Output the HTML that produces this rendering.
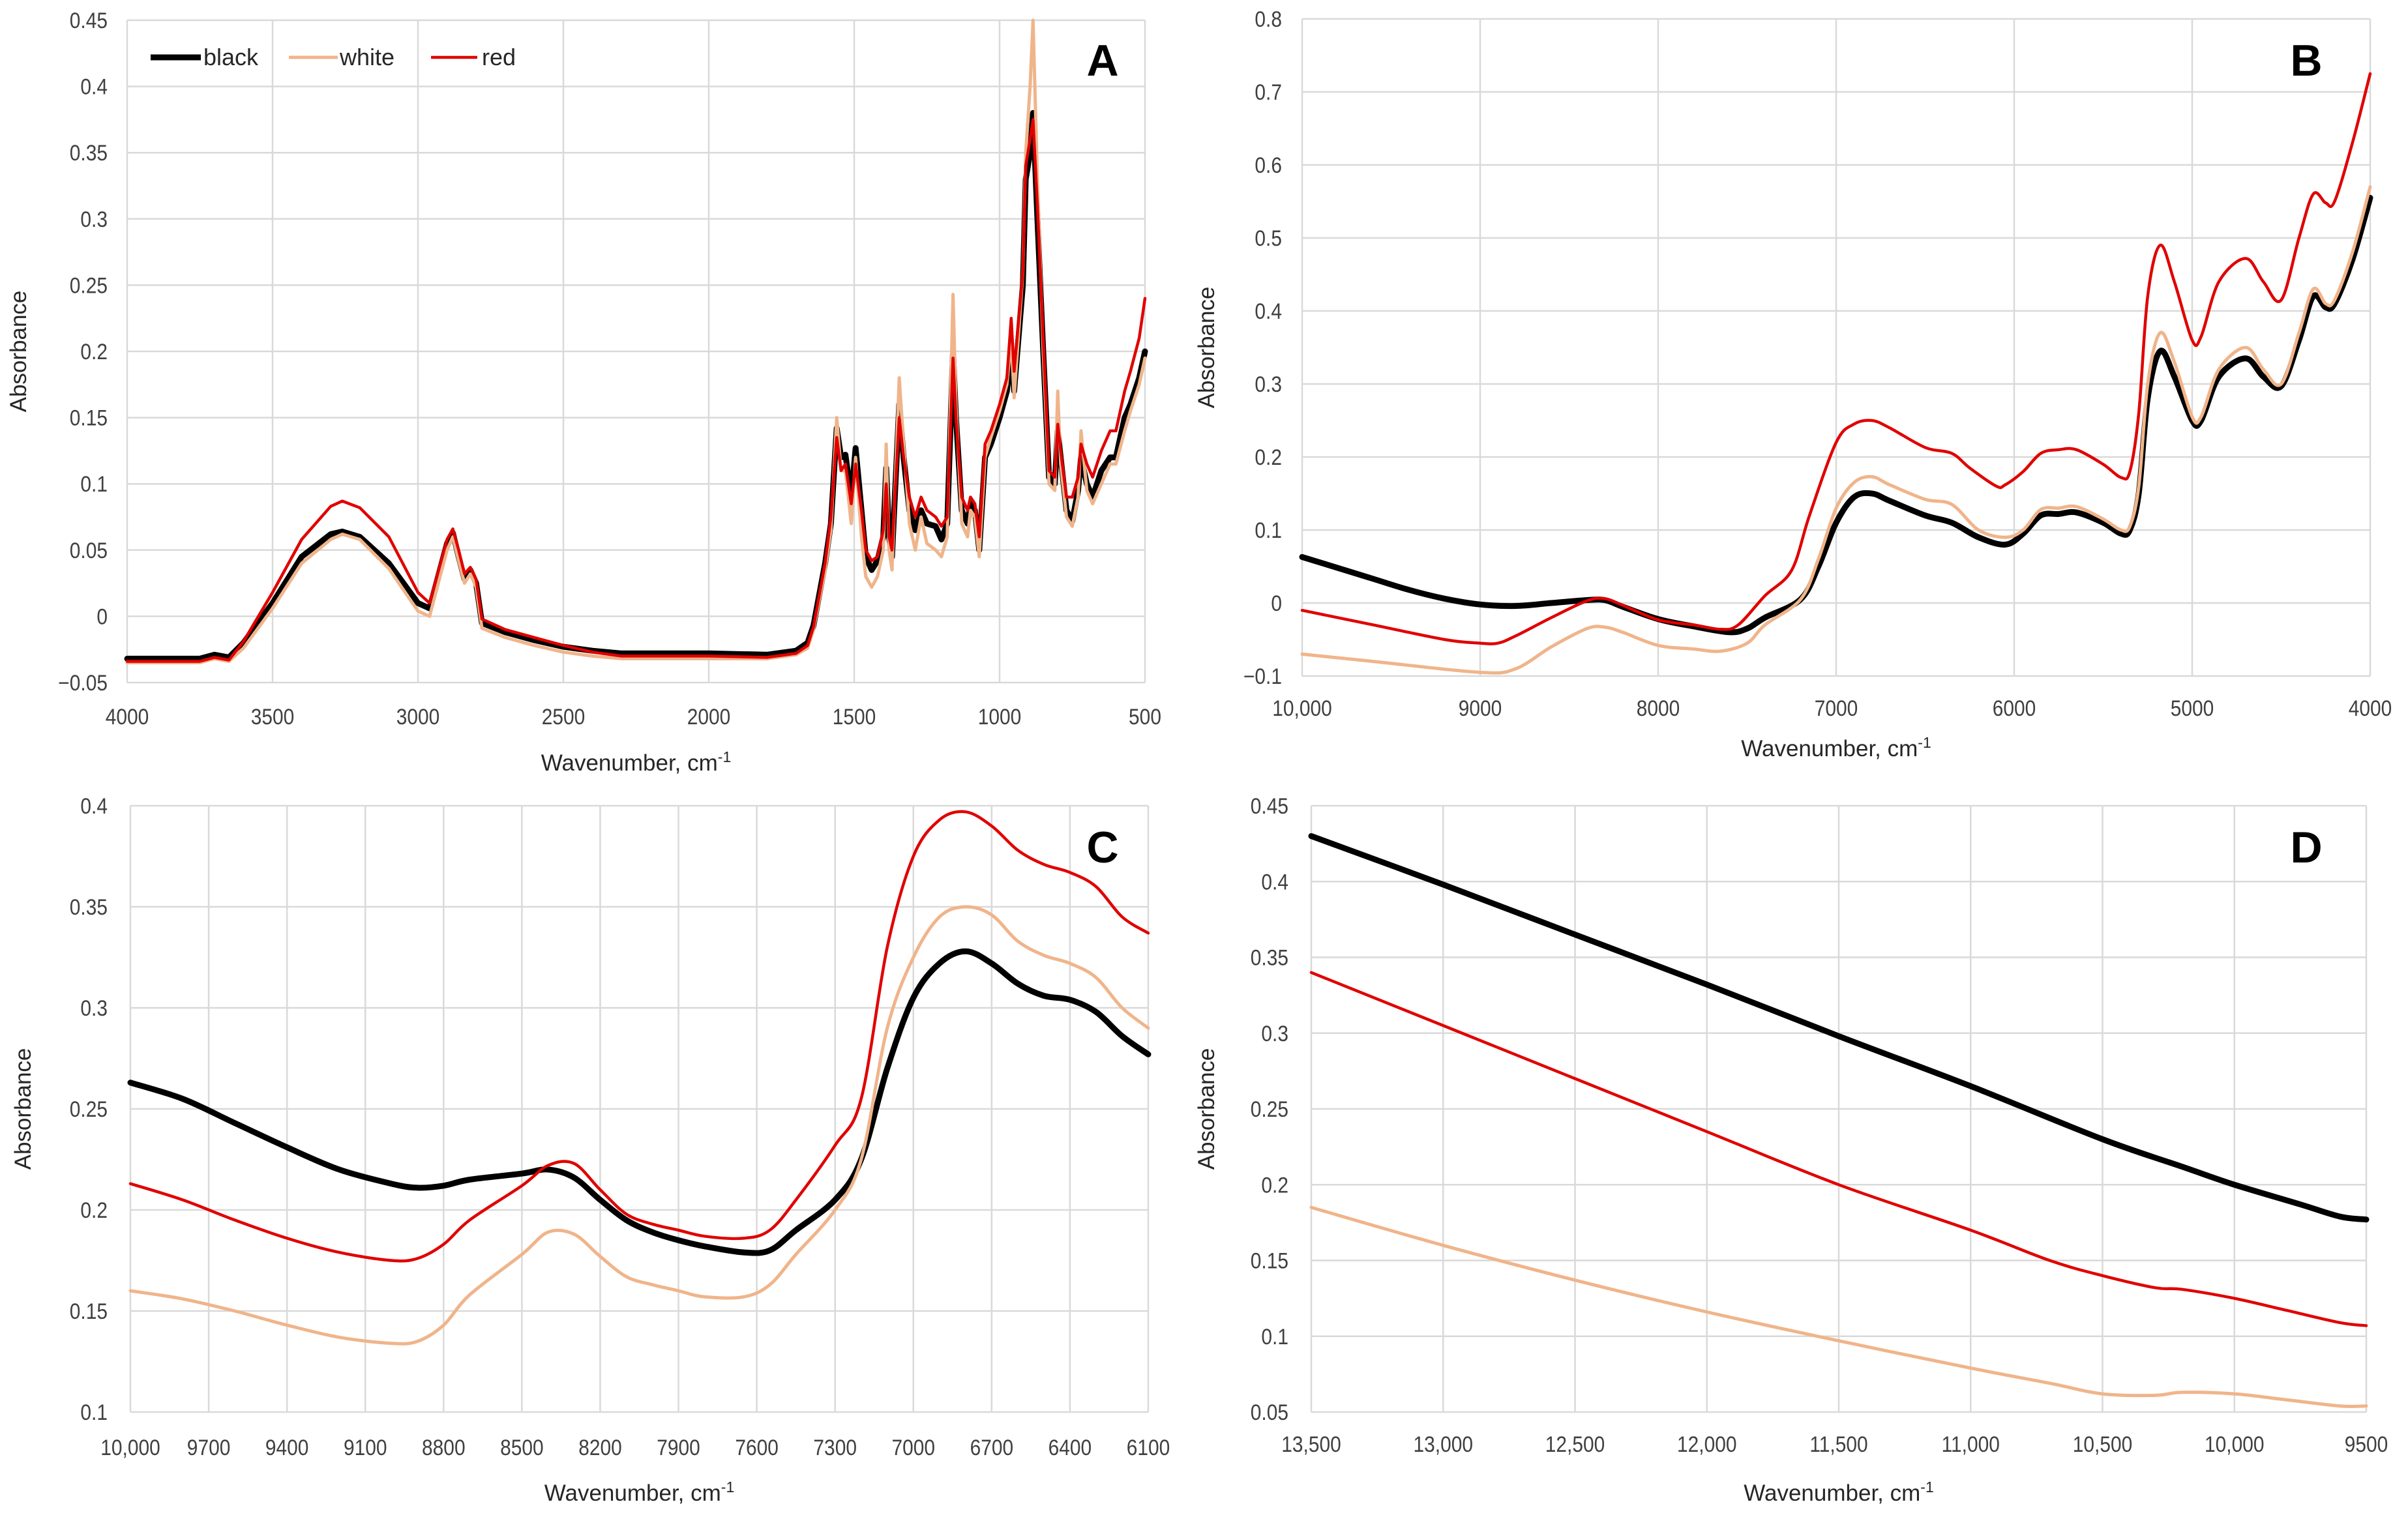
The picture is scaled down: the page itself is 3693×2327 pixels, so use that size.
<!DOCTYPE html>
<html><head><meta charset="utf-8"><style>
html,body{margin:0;padding:0;background:#fff}
svg{display:block}
text{font-family:"Liberation Sans Narrow","Liberation Sans",sans-serif;fill:#404040}
.tick{font-size:34px}
.title{font-family:"Liberation Sans",sans-serif;font-size:35px;fill:#262626}
.letter{font-family:"Liberation Sans",sans-serif;font-size:68px;font-weight:bold;fill:#000}
.leg{font-size:36px;fill:#262626}
</style></head><body>
<svg id="fig" width="3693" height="2327" viewBox="0 0 3693 2327" xmlns="http://www.w3.org/2000/svg"></svg>
<script>
// Panel A data
const wnA=[4000,3750,3700,3650,3600,3500,3400,3300,3260,3200,3100,3000,2960,2900,2880,2860,2840,2820,2800,2780,2700,2600,2500,2400,2300,2000,1800,1700,1660,1640,1600,1580,1560,1545,1530,1510,1495,1475,1460,1440,1420,1400,1390,1380,1370,1345,1330,1310,1290,1270,1250,1220,1200,1180,1160,1150,1130,1110,1100,1085,1070,1050,1030,1000,975,960,950,920,910,895,885,870,850,830,810,800,790,770,750,730,720,700,680,650,620,600,570,550,520,500];
const blackA=[-0.032,-0.032,-0.029,-0.031,-0.02,0.01,0.045,0.062,0.064,0.06,0.04,0.01,0.006,0.055,0.063,0.045,0.028,0.035,0.025,-0.005,-0.012,-0.018,-0.023,-0.026,-0.028,-0.028,-0.029,-0.026,-0.02,-0.007,0.04,0.07,0.142,0.12,0.122,0.09,0.127,0.08,0.045,0.035,0.042,0.06,0.112,0.06,0.045,0.16,0.12,0.08,0.065,0.08,0.07,0.068,0.058,0.07,0.2,0.15,0.08,0.07,0.085,0.08,0.05,0.12,0.13,0.15,0.17,0.2,0.17,0.25,0.33,0.35,0.38,0.3,0.2,0.105,0.1,0.14,0.12,0.08,0.072,0.095,0.12,0.1,0.09,0.11,0.12,0.12,0.15,0.16,0.18,0.2];
const whiteA=[-0.035,-0.035,-0.032,-0.034,-0.024,0.006,0.04,0.058,0.062,0.058,0.036,0.004,0.0,0.05,0.06,0.042,0.025,0.032,0.022,-0.009,-0.016,-0.022,-0.027,-0.03,-0.032,-0.032,-0.032,-0.029,-0.024,-0.01,0.035,0.065,0.15,0.11,0.11,0.07,0.12,0.06,0.03,0.022,0.03,0.05,0.13,0.05,0.035,0.18,0.13,0.07,0.05,0.075,0.055,0.05,0.045,0.06,0.243,0.16,0.07,0.06,0.08,0.075,0.045,0.12,0.135,0.155,0.175,0.21,0.165,0.26,0.35,0.4,0.45,0.33,0.2,0.1,0.095,0.17,0.115,0.075,0.068,0.09,0.14,0.095,0.085,0.1,0.115,0.115,0.14,0.155,0.175,0.195];
const redA=[-0.034,-0.034,-0.031,-0.033,-0.019,0.018,0.058,0.083,0.087,0.082,0.06,0.018,0.01,0.058,0.066,0.05,0.032,0.037,0.028,-0.002,-0.01,-0.016,-0.022,-0.027,-0.03,-0.03,-0.031,-0.028,-0.022,-0.008,0.04,0.075,0.135,0.11,0.115,0.085,0.115,0.08,0.05,0.042,0.045,0.065,0.1,0.06,0.05,0.15,0.12,0.09,0.075,0.09,0.08,0.075,0.068,0.075,0.195,0.15,0.09,0.08,0.09,0.085,0.06,0.13,0.14,0.16,0.18,0.225,0.185,0.26,0.34,0.36,0.375,0.31,0.21,0.11,0.105,0.145,0.125,0.09,0.09,0.105,0.13,0.115,0.105,0.125,0.14,0.14,0.17,0.185,0.21,0.24];
// Panel B data
const wnBk=[10000,9800,9600,9400,9200,9000,8800,8600,8400,8300,8200,8000,7800,7600,7500,7400,7200,7100,7000,6900,6800,6700,6500,6350,6200,6050,5950,5850,5750,5650,5500,5400,5350,5300,5250,5180,5100,5000,4950,4850,4700,4600,4500,4400,4320,4250,4200,4100,4000];
const blackB=[0.063,0.048,0.033,0.018,0.006,-0.002,-0.004,0.0,0.004,0.004,-0.005,-0.022,-0.032,-0.04,-0.035,-0.02,0.005,0.05,0.11,0.145,0.15,0.14,0.12,0.11,0.09,0.08,0.095,0.12,0.122,0.124,0.11,0.095,0.1,0.15,0.28,0.345,0.31,0.25,0.25,0.31,0.335,0.31,0.297,0.36,0.42,0.405,0.41,0.47,0.555];
const wnBw=[10000,9600,9000,8800,8600,8400,8300,8200,8000,7800,7650,7500,7400,7200,7100,7000,6900,6800,6700,6500,6350,6200,6050,5950,5850,5750,5650,5500,5400,5350,5300,5250,5180,5100,5000,4950,4850,4700,4600,4500,4400,4320,4250,4200,4100,4000];
const whiteB=[-0.07,-0.08,-0.095,-0.09,-0.06,-0.035,-0.033,-0.04,-0.058,-0.063,-0.066,-0.055,-0.03,0.005,0.06,0.13,0.165,0.173,0.162,0.142,0.135,0.1,0.09,0.1,0.128,0.13,0.132,0.115,0.1,0.105,0.16,0.3,0.37,0.33,0.255,0.255,0.32,0.35,0.32,0.3,0.37,0.43,0.41,0.415,0.48,0.57];
const wnBr=[10000,9600,9200,9000,8900,8800,8600,8400,8300,8200,8000,7800,7650,7550,7400,7250,7150,7000,6900,6800,6700,6500,6350,6250,6100,6050,5950,5850,5750,5650,5500,5400,5350,5300,5250,5180,5100,5000,4950,4850,4700,4600,4500,4400,4320,4250,4200,4100,4000];
const redB=[-0.01,-0.03,-0.05,-0.055,-0.055,-0.045,-0.02,0.003,0.006,-0.003,-0.023,-0.03,-0.036,-0.03,0.01,0.045,0.12,0.22,0.245,0.25,0.24,0.213,0.205,0.185,0.16,0.162,0.18,0.205,0.21,0.21,0.19,0.172,0.18,0.26,0.42,0.49,0.44,0.36,0.365,0.44,0.472,0.44,0.415,0.5,0.56,0.548,0.55,0.63,0.725];
// Panel C data
const wnC=[10000,9800,9600,9400,9200,9000,8900,8800,8700,8500,8400,8300,8200,8100,8000,7900,7800,7650,7550,7450,7300,7200,7100,7000,6900,6800,6700,6600,6500,6400,6300,6200,6100];
const blackC=[0.263,0.255,0.243,0.231,0.22,0.213,0.211,0.212,0.215,0.218,0.22,0.216,0.205,0.195,0.189,0.185,0.182,0.179,0.18,0.19,0.205,0.225,0.27,0.305,0.322,0.328,0.322,0.312,0.306,0.304,0.298,0.286,0.277];
const whiteC=[0.16,0.156,0.15,0.143,0.137,0.134,0.135,0.143,0.158,0.178,0.189,0.188,0.177,0.167,0.163,0.16,0.157,0.157,0.163,0.178,0.2,0.225,0.29,0.325,0.345,0.35,0.346,0.333,0.326,0.322,0.315,0.3,0.29];
const redC=[0.213,0.205,0.195,0.186,0.179,0.175,0.176,0.183,0.195,0.212,0.222,0.223,0.21,0.198,0.193,0.19,0.187,0.186,0.19,0.205,0.232,0.255,0.33,0.375,0.393,0.397,0.39,0.378,0.371,0.367,0.36,0.345,0.337];
// Panel D data
const wnDk=[13500,13000,12500,12000,11500,11000,10500,10200,10000,9750,9600,9500];
const blackD=[0.43,0.398,0.365,0.332,0.298,0.265,0.23,0.212,0.2,0.187,0.179,0.177];
const wnDr=[13500,13000,12500,12000,11500,11000,10700,10500,10300,10200,10000,9800,9600,9500];
const redD=[0.34,0.305,0.27,0.235,0.2,0.17,0.15,0.14,0.132,0.131,0.125,0.117,0.109,0.107];
const wnDw=[13500,13000,12500,12000,11500,11000,10700,10500,10300,10200,10000,9800,9600,9500];
const whiteD=[0.185,0.16,0.137,0.116,0.097,0.079,0.069,0.062,0.061,0.063,0.062,0.058,0.054,0.054];
// Tick labels
const xTicksA=[4000,3500,3000,2500,2000,1500,1000,500];
const yTicksA=[-0.05,0,0.05,0.1,0.15,0.2,0.25,0.3,0.35,0.4,0.45];
const xTicksB=[10000,9000,8000,7000,6000,5000,4000];
const yTicksB=[-0.1,0,0.1,0.2,0.3,0.4,0.5,0.6,0.7,0.8];
const xTicksC=[10000,9700,9400,9100,8800,8500,8200,7900,7600,7300,7000,6700,6400,6100];
const yTicksC=[0.1,0.15,0.2,0.25,0.3,0.35,0.4];
const xTicksD=[13500,13000,12500,12000,11500,11000,10500,10000,9500];
const yTicksD=[0.05,0.1,0.15,0.2,0.25,0.3,0.35,0.4,0.45];

const NS="http://www.w3.org/2000/svg";
const svg=document.getElementById('fig');
function mk(tag,attrs,parent){const e=document.createElementNS(NS,tag);for(const k in attrs)e.setAttribute(k,attrs[k]);(parent||svg).appendChild(e);return e;}
function fmtX(v){return v>=10000?String(v).replace(/(\d+)(\d{3})$/,'$1,$2'):String(v);}
function fmtY(v){let s=String(Math.round(v*100)/100);return s.replace('-','\u2212');}
function pathD(pts,smooth){
  if(!smooth)return pts.map((p,i)=>(i?'L':'M')+p[0].toFixed(1)+','+p[1].toFixed(1)).join('');
  let d='M'+pts[0][0].toFixed(1)+','+pts[0][1].toFixed(1);
  for(let i=0;i<pts.length-1;i++){
    const p0=pts[Math.max(0,i-1)],p1=pts[i],p2=pts[i+1],p3=pts[Math.min(pts.length-1,i+2)];
    const c1=[p1[0]+(p2[0]-p0[0])/6,p1[1]+(p2[1]-p0[1])/6];
    const c2=[p2[0]-(p3[0]-p1[0])/6,p2[1]-(p3[1]-p1[1])/6];
    d+='C'+c1[0].toFixed(1)+','+c1[1].toFixed(1)+' '+c2[0].toFixed(1)+','+c2[1].toFixed(1)+' '+p2[0].toFixed(1)+','+p2[1].toFixed(1);
  }
  return d;
}

function panel(p){
  const g=mk('g',{});
  
  
  const sx=v=>p.L+(p.x0-v)/(p.x0-p.x1)*(p.R-p.L);
  const sy=v=>p.B-(v-p.y0)/(p.y1-p.y0)*(p.B-p.T);
  p.xt.forEach(t=>{const l=mk('line',{x1:sx(t),x2:sx(t),y1:p.T,y2:p.B,stroke:'#d9d9d9','stroke-width':2.5},g);
    
    const tx=mk('text',{x:0,y:0,transform:`translate(${sx(t)},${p.xly}) scale(0.88,1)`,'text-anchor':'middle','class':'tick'},g);tx.textContent=fmtX(t);
    });
  p.yt.forEach(t=>{const l=mk('line',{x1:p.L,x2:p.R,y1:sy(t),y2:sy(t),stroke:'#d9d9d9','stroke-width':2.5},g);
    
    const tx=mk('text',{x:0,y:0,transform:`translate(${p.ylx},${sy(t)+12}) scale(0.88,1)`,'text-anchor':'end','class':'tick'},g);tx.textContent=fmtY(t);
    });
  p.series.forEach(s=>{const pts=s.x.map((x,i)=>[sx(x),sy(s.y[i])]);
    const pa=mk('path',{d:pathD(pts,p.smooth),fill:'none',stroke:s.c,'stroke-width':s.w,'stroke-linejoin':'round','stroke-linecap':'round'},g);
    });
  const xt=mk('text',{x:(p.L+p.R)/2,y:p.xty,'text-anchor':'middle','class':'title'},g);
  
  xt.appendChild(document.createTextNode('Wavenumber, cm'));
  const sup=mk('tspan',{dy:-13,'font-size':23},xt);sup.textContent='-1';
  const yt=mk('text',{x:0,y:0,transform:`translate(${p.ytx},${(p.T+p.B)/2}) rotate(-90)`,'text-anchor':'middle','class':'title'},g);
  yt.textContent='Absorbance';
  
  const lt=mk('text',{x:p.lx,y:p.ly,'text-anchor':'middle','class':'letter'},g);lt.textContent=p.id;
  
}
const S=(bx,by,wx,wy,rx,ry)=>[{n:'black',x:bx,y:by,c:'#000',w:9},{n:'white',x:wx,y:wy,c:'#f0b48a',w:5},{n:'red',x:rx,y:ry,c:'#e00000',w:4.5}];
panel({id:'A',smooth:false,L:195,R:1756,T:31,B:1047,x0:4000,x1:500,y0:-0.05,y1:0.45,xt:xTicksA,yt:yTicksA,xly:1111,ylx:165,xty:1182,ytx:40,lx:1691,ly:116,series:S(wnA,blackA,wnA,whiteA,wnA,redA)});
panel({id:'B',smooth:true,L:1997,R:3635,T:29,B:1037,x0:10000,x1:4000,y0:-0.1,y1:0.8,xt:xTicksB,yt:yTicksB,xly:1098,ylx:1966,xty:1160,ytx:1862,lx:3537,ly:116,series:S(wnBk,blackB,wnBw,whiteB,wnBr,redB)});
panel({id:'C',smooth:true,L:200,R:1761,T:1236,B:2166,x0:10000,x1:6100,y0:0.1,y1:0.4,xt:xTicksC,yt:yTicksC,xly:2232,ylx:165,xty:2302,ytx:47,lx:1691,ly:1323,series:S(wnC,blackC,wnC,whiteC,wnC,redC)});
panel({id:'D',smooth:true,L:2011,R:3629,T:1236,B:2166,x0:13500,x1:9500,y0:0.05,y1:0.45,xt:xTicksD,yt:yTicksD,xly:2227,ylx:1976,xty:2302,ytx:1862,lx:3537,ly:1323,series:S(wnDk,blackD,wnDw,whiteD,wnDr,redD)});
// legend
const lg=mk('g',{});


[['black','#000',9,231,308,312],['white','#f0b48a',5,443,518,521],['red','#e00000',4.5,661,732,739]].forEach(e=>{
  const l=mk('line',{x1:e[3],x2:e[4],y1:88,y2:88,stroke:e[1],'stroke-width':e[2]},lg);
  
  const t=mk('text',{x:e[5],y:100,'class':'leg'},lg);t.textContent=e[0];
  
});
</script>
</body></html>
